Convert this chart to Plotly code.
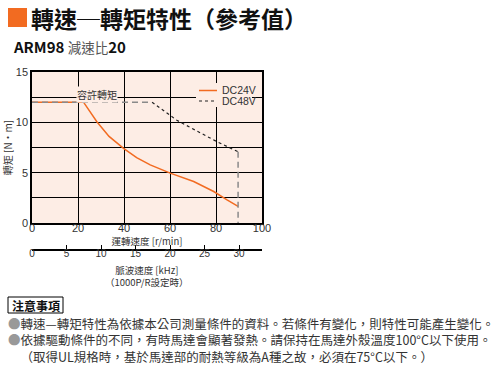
import plotly.graph_objects as go

W, H = 500, 371

# ---- data ----
dc24_speed = [0, 22.4, 28.2, 33.5, 39.8, 45.5, 51.4, 60.1, 70.3, 79.0, 84.8, 89.6]
dc24_torque = [12.0, 12.0, 10.06, 8.6, 7.42, 6.5, 5.77, 4.95, 4.12, 3.13, 2.3, 1.65]

dc48_speed = [52.2, 63.0, 80.4, 89.6]
dc48_torque = [12.0, 10.2, 8.08, 7.08]

limit_speed = [0, 52.2, None, 89.6, 89.6]
limit_torque = [12.0, 12.0, None, 7.08, 0]

x_ticks = [0, 20, 40, 60, 80, 100]
y_ticks = [0, 5, 10, 15]
khz_ticks = [0, 5, 10, 15, 20, 25, 30]

legend_names = ["DC24V", "DC48V"]

notes = [
    "轉速—轉矩特性為依據本公司測量條件的資料。若條件有變化，則特性可能產生變化。",
    "依據驅動條件的不同，有時馬達會顯著發熱。請保持在馬達外殼溫度100°C以下使用。",
    "（取得UL規格時，基於馬達部的耐熱等級為A種之故，必須在75°C以下。）",
]

CJK = "Noto Sans CJK TC, Liberation Sans, sans-serif"
NUM = "Liberation Sans Narrow, Liberation Sans, Arial, sans-serif"
ORANGE = "#f26b21"
BG = "#fdede5"


def px(x):
    return x / W


def py(y):
    return 1 - y / H


x0, x1 = 32, 262
y0, y1 = 72, 223

fig = go.Figure()

fig.add_trace(go.Scatter(x=dc24_speed, y=dc24_torque, mode="lines", name=legend_names[0],
                         showlegend=False, line=dict(color=ORANGE, width=1.5)))
fig.add_trace(go.Scatter(x=limit_speed, y=limit_torque, mode="lines", showlegend=False,
                         line=dict(color="#8a8a8a", width=1.5, dash="6px,4px")))
fig.add_trace(go.Scatter(x=dc48_speed, y=dc48_torque, mode="lines", name=legend_names[1],
                         showlegend=False, line=dict(color="#222222", width=1.2, dash="3px,3px")))
# helper trace for secondary axis
fig.add_trace(go.Scatter(x=[0], y=[0], xaxis="x2", mode="markers", showlegend=False,
                         marker=dict(opacity=0), hoverinfo="skip"))

fig.update_layout(
    width=W, height=H,
    margin=dict(l=0, r=0, t=0, b=0, autoexpand=False),
    paper_bgcolor="white",
    plot_bgcolor=BG,
    showlegend=False,
    xaxis=dict(domain=[px(x0), px(x1)], range=[0, 100], tickvals=x_ticks,
               automargin=False,
               showgrid=True, gridcolor="black", gridwidth=1,
               showline=True, linecolor="black", linewidth=1.5, mirror=True,
               zeroline=False, ticks="", ticklen=0, ticklabelstandoff=-6,
               tickfont=dict(family=NUM, size=11, color="#333"),
               title=dict(text="運轉速度 [r/min]", font=dict(family=CJK, size=9.5, color="#333"),
                          standoff=0),
               anchor="y"),
    yaxis=dict(domain=[py(y1), py(y0)], range=[0, 15], tickvals=y_ticks,
               automargin=False,
               showgrid=True, gridcolor="black", gridwidth=1,
               minor=dict(dtick=2.5, showgrid=True, gridcolor="black", gridwidth=1),
               showline=True, linecolor="black", linewidth=1.5, mirror=True,
               zeroline=False, ticks="", ticklen=0,
               tickfont=dict(family=NUM, size=11, color="#333"),
               title=dict(text="轉矩 [N·m]", font=dict(family=CJK, size=10, color="#333"),
                          standoff=4)),
    xaxis2=dict(domain=[px(x0), px(x1)], range=[0, 100 / 3], tickvals=khz_ticks,
                automargin=False,
                anchor="free", position=py(250), overlaying="x", side="bottom",
                showgrid=False, zeroline=False, showline=True, linecolor="black",
                linewidth=1.5, ticks="inside", ticklen=4, tickcolor="black",
                ticklabelstandoff=-6,
                tickfont=dict(family=NUM, size=10, color="#333")),
)

shapes = [
    dict(type="rect", xref="paper", yref="paper", x0=px(8), x1=px(27), y0=py(27), y1=py(8),
         fillcolor=ORANGE, line=dict(width=0)),
    dict(type="rect", xref="paper", yref="paper", x0=px(8), x1=px(63), y0=py(313), y1=py(297),
         fillcolor="white", line=dict(color="black", width=1)),
    # legend box
    dict(type="rect", xref="paper", yref="paper", x0=px(196), x1=px(252), y0=py(107), y1=py(83),
         fillcolor=BG, line=dict(width=0), layer="above"),
    dict(type="line", xref="paper", yref="paper", x0=px(199), x1=px(217), y0=py(90.5), y1=py(90.5),
         line=dict(color=ORANGE, width=1.5), layer="above"),
    dict(type="line", xref="paper", yref="paper", x0=px(199), x1=px(217), y0=py(101), y1=py(101),
         line=dict(color="#222222", width=1.2, dash="3px,3px"), layer="above"),
]
fig.update_layout(shapes=shapes)

bullet = "<span style='color:#999'>●</span>"
blank = "<span style='color:rgba(0,0,0,0)'>●</span>"
notes_text = "<br>".join([bullet + notes[0], bullet + notes[1], blank + notes[2]])

ann = []
ann.append(dict(x=px(29), y=py(18), xref="paper", yref="paper", xanchor="left", yanchor="middle",
                text="<b>轉速─轉矩特性（參考值）</b>", showarrow=False,
                font=dict(family=CJK, size=23, color="#111")))
ann.append(dict(x=px(11), y=py(47), xref="paper", yref="paper", xanchor="left", yanchor="middle",
                text="<b>ARM98</b> <span style='color:#555;font-size:13.5px'>減速比</span><b>20</b>",
                showarrow=False, font=dict(family=CJK, size=15, color="#111")))
ann.append(dict(x=19, y=12.75, xref="x", yref="y", xanchor="left", yanchor="middle",
                text="容許轉矩", showarrow=False, bgcolor=BG, borderpad=0,
                font=dict(family=CJK, size=10, color="#333")))
ann.append(dict(x=px(220), y=py(90.5), xref="paper", yref="paper", xanchor="left", yanchor="middle",
                text=legend_names[0], showarrow=False,
                font=dict(family=NUM, size=10.5, color="#333")))
ann.append(dict(x=px(220), y=py(101), xref="paper", yref="paper", xanchor="left", yanchor="middle",
                text=legend_names[1], showarrow=False,
                font=dict(family=NUM, size=10.5, color="#333")))
ann.append(dict(x=px(147), y=py(276), xref="paper", yref="paper", xanchor="center", yanchor="middle",
                text="脈波速度 [kHz]<br>（1000P/R設定時）", showarrow=False,
                font=dict(family=CJK, size=9.5, color="#333")))
ann.append(dict(x=px(35.5), y=py(305), xref="paper", yref="paper", xanchor="center", yanchor="middle",
                text="<b>注意事項</b>", showarrow=False,
                font=dict(family=CJK, size=12, color="#111")))
ann.append(dict(x=px(6), y=py(340), xref="paper", yref="paper", xanchor="left", yanchor="middle",
                align="left", text=notes_text, showarrow=False,
                font=dict(family=CJK, size=12.5, color="#333")))
fig.update_layout(annotations=ann)

fig.write_html("out.html", config={"displayModeBar": False},
               post_script="document.body.style.margin='0';")
